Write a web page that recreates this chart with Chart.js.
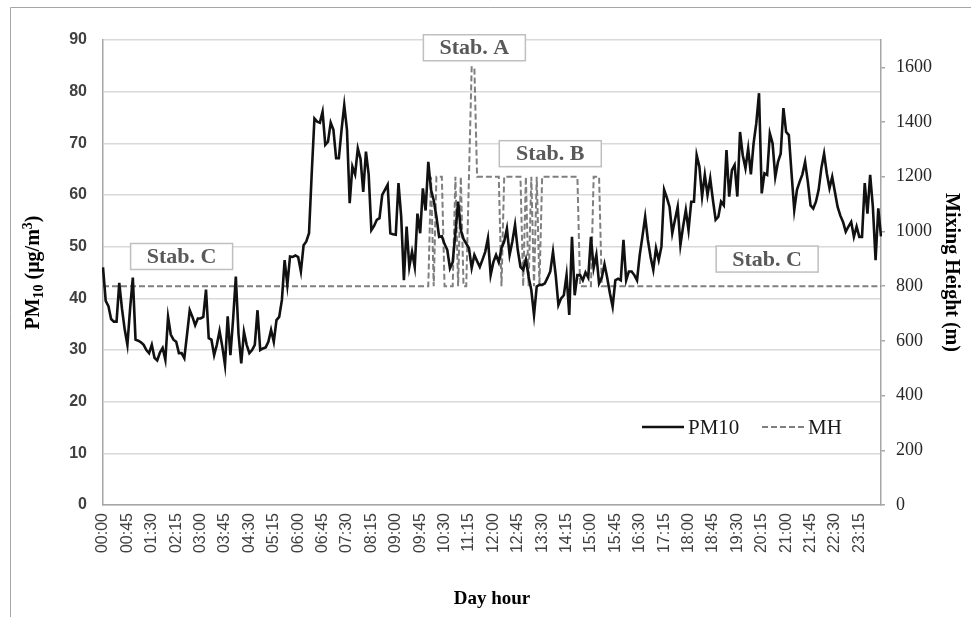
<!DOCTYPE html>
<html>
<head>
<meta charset="utf-8">
<title>PM10 and mixing height</title>
<script src="https://cdn.jsdelivr.net/npm/chart.js@4.4.1/dist/chart.umd.min.js"></script>
<style>
  html, body { margin: 0; padding: 0; background: #fff; }
  #wrap { width: 971px; height: 617px; }
</style>
</head>
<body>
<div id="wrap"><canvas id="pmChart" width="971" height="617"></canvas></div>
<script>
const SERIF = '"Liberation Serif", "Times New Roman", serif';
const SANS = '"Liberation Sans", Arial, sans-serif';

// 5-minute steps over the day, 00:00 .. 23:55
const dayHours = [];
for (let m = 0; m < 24 * 60; m += 5) {
  dayHours.push(String(Math.floor(m / 60)).padStart(2, "0") + ":" + String(m % 60).padStart(2, "0"));
}

// PM10 (ug/m3), one row per hour
const pm10 = [
  46, 39.5, 38.5, 36, 35.5, 35.5, 43, 38, 34, 31, 38, 44,
  32, 31.8, 31.5, 31, 30, 29.4, 31, 28.5, 28, 29.5, 30.4, 28.1,
  36.4, 33, 32, 31.6, 29.4, 29.4, 28.4, 33, 37.7, 36.4, 34.8, 36.1,
  36.1, 36.4, 41.7, 32.3, 32, 29, 31, 33.7, 30.7, 27.1, 36.5, 29,
  36, 44.2, 33, 27.4, 33.5, 31, 29.4, 30, 31, 37.7, 30, 30.3,
  30.5, 31.6, 33.9, 31.6, 35.8, 36.4, 39.7, 47.4, 42.6, 48.1, 48, 48.3,
  48, 45.2, 50.3, 51, 52.6, 64.2, 74.8, 74.2, 74, 76.1, 69.7, 70.3,
  74, 72.6, 67.1, 67.1, 72.6, 77.4, 72.6, 58.4, 65.5, 64, 69, 67,
  60.6, 68.4, 64, 53.2, 54, 55.2, 55.5, 60, 61, 62, 52.6, 52.4,
  52.3, 62.3, 55.8, 43.5, 53.9, 46.1, 49, 46.1, 56.4, 52.6, 61.3, 57,
  66.4, 61, 59, 55.8, 51.9, 52, 50.5, 49.4, 45.8, 47, 52.6, 58.7,
  53.2, 51.5, 50.6, 49.7, 45.9, 48.4, 47.2, 46.1, 47.5, 49, 51.6, 44.5,
  47, 48.4, 47, 49.7, 51, 53.5, 48.4, 51, 54.2, 49.4, 46.1, 45.5,
  47.5, 44.2, 41.6, 36.8, 42.3, 42.6, 42.6, 42.9, 44, 45.2, 49, 44.5,
  38.7, 40, 40.6, 44.5, 36.8, 51.9, 40.6, 44.5, 44.5, 43.5, 45, 44,
  51.9, 45.9, 48.4, 42.9, 44, 46.6, 44, 41, 38.4, 43.5, 43.8, 43.5,
  51.3, 43.5, 45.2, 45.2, 44.5, 43.5, 48.4, 52, 55.8, 51.3, 48, 45.5,
  49.7, 47.4, 50, 61, 59.5, 57.7, 52.6, 55.2, 57.7, 50.3, 53.9, 57.1,
  53.2, 58.7, 58.7, 67.7, 65.5, 59.7, 63.9, 60, 63.2, 59, 55.2, 55.8,
  58.7, 58, 68.7, 59.7, 64.8, 65.8, 59.7, 72.2, 67.7, 65.2, 69, 64,
  70, 73.9, 79.7, 60.3, 64.2, 63.9, 71.9, 70, 63.5, 66.4, 68, 76.8,
  72.2, 71.6, 64.2, 57.1, 61, 62.6, 64, 66.4, 62.6, 58, 57.4, 58.7,
  61, 65.2, 68, 64.2, 61.3, 63.5, 60.6, 57.7, 56, 54.8, 52.9, 53.9,
  54.8, 51.9, 53.9, 51.9, 51.9, 62.3, 56.4, 63.9, 57.7, 47.4, 57.4, 52
];

// mixing height (m), one row per hour
const mixingHeight = [
  800, 800, 800, 800, 800, 800, 800, 800, 800, 800, 800, 800,
  800, 800, 800, 800, 800, 800, 800, 800, 800, 800, 800, 800,
  800, 800, 800, 800, 800, 800, 800, 800, 800, 800, 800, 800,
  800, 800, 800, 800, 800, 800, 800, 800, 800, 800, 800, 800,
  800, 800, 800, 800, 800, 800, 800, 800, 800, 800, 800, 800,
  800, 800, 800, 800, 800, 800, 800, 800, 800, 800, 800, 800,
  800, 800, 800, 800, 800, 800, 800, 800, 800, 800, 800, 800,
  800, 800, 800, 800, 800, 800, 800, 800, 800, 800, 800, 800,
  800, 800, 800, 800, 800, 800, 800, 800, 800, 800, 800, 800,
  800, 800, 800, 800, 800, 800, 800, 800, 800, 800, 800, 800,
  800, 1200, 800, 1200, 1200, 1200, 800, 800, 800, 800, 1200, 800,
  1200, 800, 800, 1200, 1600, 1600, 1200, 1200, 1200, 1200, 1200, 1200,
  1200, 1200, 1200, 800, 1200, 1200, 1200, 1200, 1200, 1200, 1200, 800,
  1200, 800, 1200, 800, 1200, 800, 1200, 1200, 1200, 1200, 1200, 1200,
  1200, 1200, 1200, 1200, 1200, 1200, 1200, 1200, 800, 800, 800, 800,
  800, 1200, 1200, 1200, 800, 800, 800, 800, 800, 800, 800, 800,
  800, 800, 800, 800, 800, 800, 800, 800, 800, 800, 800, 800,
  800, 800, 800, 800, 800, 800, 800, 800, 800, 800, 800, 800,
  800, 800, 800, 800, 800, 800, 800, 800, 800, 800, 800, 800,
  800, 800, 800, 800, 800, 800, 800, 800, 800, 800, 800, 800,
  800, 800, 800, 800, 800, 800, 800, 800, 800, 800, 800, 800,
  800, 800, 800, 800, 800, 800, 800, 800, 800, 800, 800, 800,
  800, 800, 800, 800, 800, 800, 800, 800, 800, 800, 800, 800,
  800, 800, 800, 800, 800, 800, 800, 800, 800, 800, 800, 800
];

// stability class notes, anchored at (category index, PM10 value)
const stabNotes = [
  { text: "Stab. C", at: 29, value: 48.1 },
  { text: "Stab. A", at: 137, value: 88.5 },
  { text: "Stab. B", at: 165, value: 68 },
  { text: "Stab. C", at: 245, value: 47.6 }
];

// left axis title pieces: normal, subscript, normal, superscript, normal
const leftTitleParts = [
  { t: "PM", kind: "n" },
  { t: "10", kind: "sub" },
  { t: " (\u03bcg/m", kind: "n" },
  { t: "3", kind: "sup" },
  { t: ")", kind: "n" }
];

// draws the outer frame, the left title, the stability boxes and the legend
const notesPlugin = {
  id: "notesPlugin",
  beforeDraw(chart) {
    const ctx = chart.ctx;
    ctx.save();
    ctx.fillStyle = "#fff";
    ctx.fillRect(0, 0, chart.width, chart.height);
    ctx.strokeStyle = "#a6a6a6";
    ctx.lineWidth = 1;
    ctx.beginPath();
    ctx.moveTo(10.5, chart.height);
    ctx.lineTo(10.5, 7.5);
    ctx.lineTo(chart.width, 7.5);
    ctx.stroke();
    ctx.restore();
  },
  afterDraw(chart, args, opts) {
    const ctx = chart.ctx;
    const xs = chart.scales.x, ys = chart.scales.y;
    const area = chart.chartArea;
    ctx.save();

    // left title with real sub/superscript
    const fontFor = (k) => "bold " + (k === "n" ? 20 : 14) + "px " + SERIF;
    let total = 0;
    leftTitleParts.forEach((p) => { ctx.font = fontFor(p.kind); total += ctx.measureText(p.t).width; });
    ctx.translate(opts.leftTitleX, (area.top + area.bottom) / 2);
    ctx.rotate(-Math.PI / 2);
    ctx.fillStyle = "#000";
    ctx.textAlign = "left";
    ctx.textBaseline = "alphabetic";
    let px = -total / 2;
    leftTitleParts.forEach((p) => {
      ctx.font = fontFor(p.kind);
      const dy = p.kind === "sub" ? 4 : p.kind === "sup" ? -7 : 0;
      ctx.fillText(p.t, px, 7 + dy);
      px += ctx.measureText(p.t).width;
    });
    ctx.setTransform(1, 0, 0, 1, 0, 0);

    // stability boxes
    ctx.font = "bold 22px " + SERIF;
    ctx.textAlign = "center";
    ctx.textBaseline = "middle";
    opts.notes.forEach((n) => {
      const cx = xs.getPixelForValue(n.at);
      const cy = ys.getPixelForValue(n.value);
      ctx.fillStyle = "#fff";
      ctx.fillRect(cx - 51, cy - 13, 102, 26);
      ctx.strokeStyle = "#bfbfbf";
      ctx.lineWidth = 1.5;
      ctx.strokeRect(cx - 51, cy - 13, 102, 26);
      ctx.fillStyle = "#595959";
      ctx.fillText(n.text, cx, cy + 1);
    });

    // legend
    ctx.font = "21px " + SERIF;
    ctx.textAlign = "left";
    chart.data.datasets.forEach((ds, i) => {
      const x0 = opts.legendX[i];
      const y0 = opts.legendY;
      ctx.strokeStyle = ds.borderColor;
      ctx.lineWidth = ds.borderWidth;
      ctx.setLineDash(ds.borderDash || []);
      ctx.beginPath();
      ctx.moveTo(x0, y0);
      ctx.lineTo(x0 + opts.lineLen, y0);
      ctx.stroke();
      ctx.setLineDash([]);
      ctx.fillStyle = "#1a1a1a";
      ctx.fillText(ds.label, x0 + opts.lineLen + 4, y0 + 1);
    });
    ctx.restore();
  }
};

const ctx = document.getElementById("pmChart").getContext("2d");
new Chart(ctx, {
  type: "line",
  data: {
    labels: dayHours,
    datasets: [
      {
        label: "PM10",
        data: pm10,
        yAxisID: "y",
        borderColor: "#111111",
        borderWidth: 2.6,
        pointRadius: 0,
        tension: 0,
        fill: false
      },
      {
        label: "MH",
        data: mixingHeight,
        yAxisID: "y2",
        borderColor: "#7f7f7f",
        borderWidth: 2,
        borderDash: [6, 3],
        pointRadius: 0,
        tension: 0,
        fill: false
      }
    ]
  },
  options: {
    responsive: false,
    devicePixelRatio: 1,
    animation: false,
    layout: { padding: { left: 10, right: 6, top: 40, bottom: 7 } },
    plugins: {
      legend: { display: false },
      tooltip: { enabled: false },
      notesPlugin: { notes: stabNotes, legendX: [642, 762], legendY: 427, lineLen: 42, leftTitleX: 32 }
    },
    scales: {
      x: {
        type: "category",
        offset: false,
        grid: { display: false, drawTicks: false },
        border: { display: true, color: "#a6a6a6", width: 1.5 },
        ticks: {
          autoSkip: false,
          maxRotation: 90,
          minRotation: 90,
          padding: 8,
          color: "#404040",
          font: { family: SANS, size: 16 },
          callback: function (value, index) {
            return index % 9 === 0 ? this.getLabelForValue(value) : null;
          }
        },
        title: {
          display: true,
          text: "Day hour",
          color: "#000",
          font: { family: SERIF, size: 19, weight: "bold" },
          padding: { top: 0, bottom: 0 }
        },
        afterFit(scale) { scale.height = 105; }
      },
      y: {
        position: "left",
        min: 0,
        max: 90,
        ticks: {
          stepSize: 10,
          padding: 16,
          color: "#404040",
          font: { family: SANS, size: 16, weight: "bold" }
        },
        grid: { color: "#d9d9d9", lineWidth: 1.5, drawTicks: false },
        border: { display: true, color: "#a6a6a6", width: 1.5 },
        title: { display: false },
        afterFit(scale) { scale.width = 93; }
      },
      y2: {
        position: "right",
        min: 0,
        max: 1700,
        ticks: {
          stepSize: 200,
          includeBounds: false,
          padding: 11,
          color: "#262626",
          font: { family: SERIF, size: 18 },
          callback: (value) => String(value)
        },
        grid: { drawOnChartArea: false, drawTicks: true, tickLength: 4, color: "#a6a6a6", lineWidth: 1.5 },
        border: { display: true, color: "#a6a6a6", width: 1.5 },
        title: {
          display: true,
          text: "Mixing Height (m)",
          color: "#000",
          font: { family: SERIF, size: 20, weight: "bold" },
          padding: { top: 2, bottom: 0 }
        },
        afterFit(scale) { scale.width = 84; }
      }
    }
  },
  plugins: [notesPlugin]
});
</script>
</body>
</html>
